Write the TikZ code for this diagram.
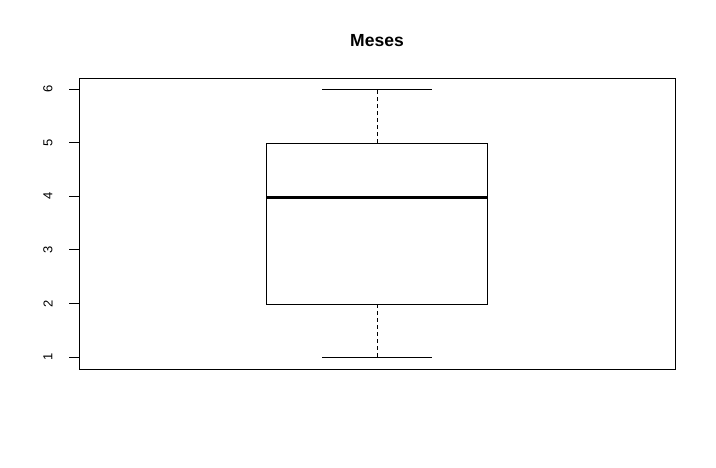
\documentclass[tikz,border=0pt]{standalone}
\usepackage{fontspec}
\setmainfont{Liberation Sans}
\usetikzlibrary{calc,positioning}

\tikzset{
  whisker/.style={line width=0.9pt,dash pattern=on 4pt off 3pt},
  boxline/.style={line width=0.9pt},
  ticklabel/.style={font=\fontsize{13}{15}\selectfont,rotate=90,inner sep=0pt}
}

\begin{document}
\begin{tikzpicture}[x=1pt,y=-1pt]
\useasboundingbox (0,0) rectangle (716,467);
% plot frame
\draw [boxline] (79,78) coordinate (fa) rectangle (675,369) coordinate (fb);
% y axis ticks and labels
\foreach \v in {1,...,6}{
  \coordinate (t\v) at (79,{89+(6-\v)*53.6});
  \draw [boxline] (t\v) -- ++(-10,0);
  \node [ticklabel] (l\v) at ($(t\v)+(-31,0)$) {\v};
}
% box
\coordinate (bl) at (266,304);
\coordinate (tr) at (487,143);
\draw [boxline] (bl) rectangle (tr);
\draw [line width=3pt] (266,197) coordinate (ml) -- (487,197) coordinate (mr);
% whiskers
\coordinate (wlo) at (377,357);
\coordinate (whi) at (377,89);
\draw [whisker] (377,304) -- (wlo);
\draw [whisker] (377,143) -- (whi);
\draw [boxline] (322,357) -- (432,357);
\draw [boxline] (322,89) -- (432,89);
% title
\node [font=\bfseries\fontsize{17.5}{20}\selectfont] (title) at (377,41) {Meses};
\end{tikzpicture}
\end{document}
